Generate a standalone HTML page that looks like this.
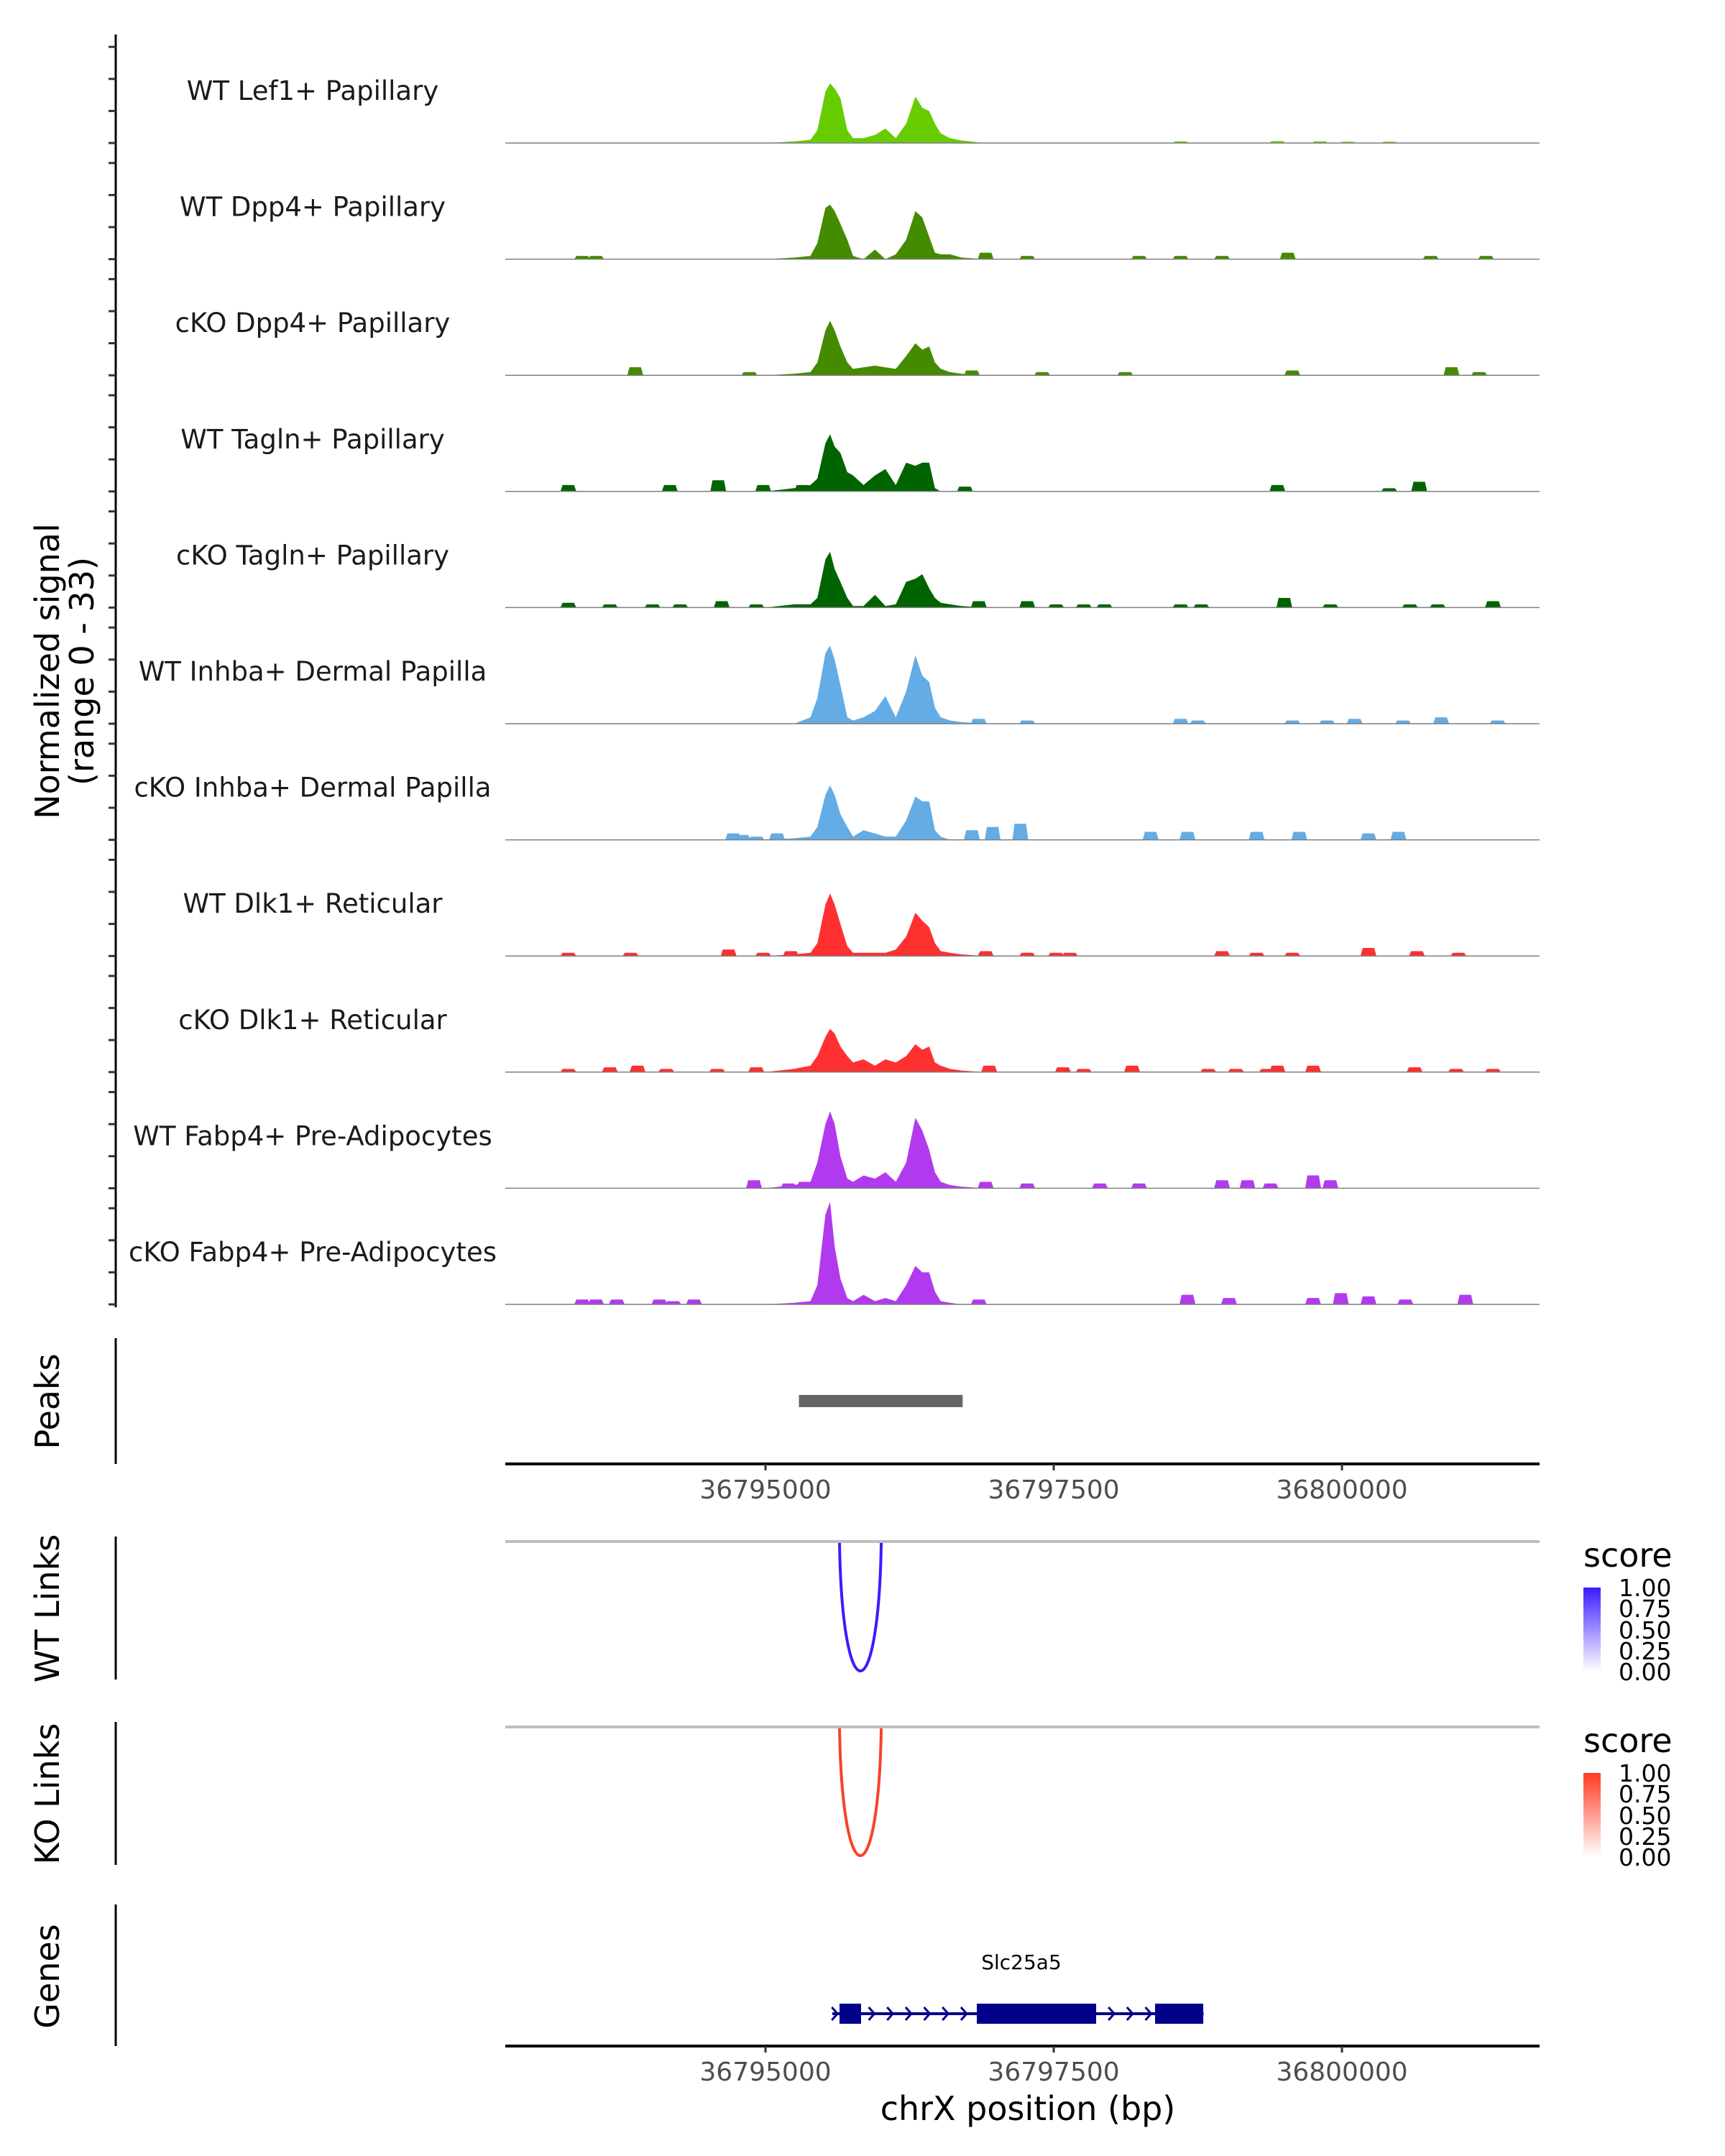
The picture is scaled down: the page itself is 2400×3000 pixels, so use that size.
<!DOCTYPE html>
<html><head><meta charset="utf-8"><style>
html,body{margin:0;padding:0;background:#fff;}
svg{display:block;font-family:"DejaVu Sans","Liberation Sans",sans-serif;}
</style></head><body>
<svg id="chart" width="2400" height="3000" viewBox="0 0 2400 3000" xmlns="http://www.w3.org/2000/svg">
<g id="tracks"></g>
<line x1="161" y1="48" x2="161" y2="1819" stroke="#000" stroke-width="3"/>
<g id="yticks"></g>
<text transform="translate(82,934) rotate(-90)" text-anchor="middle" font-size="46" fill="#000">Normalized signal</text>
<text transform="translate(130,934) rotate(-90)" text-anchor="middle" font-size="46" fill="#000">(range 0 - 33)</text>

<line x1="161" y1="1862" x2="161" y2="2037" stroke="#000" stroke-width="3"/>
<text transform="translate(82,1950) rotate(-90)" text-anchor="middle" font-size="46">Peaks</text>
<rect id="peakbar" x="1118" y="1941" width="228" height="17" fill="#666"/>
<line x1="703" y1="2037" x2="2142" y2="2037" stroke="#000" stroke-width="4"/>
<g id="xaxis1"></g>

<line x1="161" y1="2138" x2="161" y2="2337" stroke="#000" stroke-width="3"/>
<text transform="translate(82,2238) rotate(-90)" text-anchor="middle" font-size="46">WT Links</text>
<line x1="703" y1="2145" x2="2142" y2="2145" stroke="#bebebe" stroke-width="4"/>
<path id="wtarc" fill="none" stroke="#3a1cff" stroke-width="4"/>
<text x="2203" y="2180" font-size="46">score</text>
<defs>
<linearGradient id="gb" x1="0" y1="1" x2="0" y2="0"><stop offset="0" stop-color="#fff"/><stop offset="1" stop-color="#3a1cff"/></linearGradient>
<linearGradient id="gr" x1="0" y1="1" x2="0" y2="0"><stop offset="0" stop-color="#fff"/><stop offset="1" stop-color="#ff3a22"/></linearGradient>
</defs>
<rect x="2203" y="2209" width="24" height="116" fill="url(#gb)"/>
<g font-size="33" fill="#000">
<text x="2252" y="2221">1.00</text><text x="2252" y="2250">0.75</text><text x="2252" y="2280">0.50</text><text x="2252" y="2309">0.25</text><text x="2252" y="2338">0.00</text></g>

<line x1="161" y1="2396" x2="161" y2="2595" stroke="#000" stroke-width="3"/>
<text transform="translate(82,2496) rotate(-90)" text-anchor="middle" font-size="46">KO Links</text>
<line x1="703" y1="2403" x2="2142" y2="2403" stroke="#bebebe" stroke-width="4"/>
<path id="koarc" fill="none" stroke="#f5432a" stroke-width="4"/>
<text x="2203" y="2438" font-size="46">score</text>
<rect x="2203" y="2467" width="24" height="116" fill="url(#gr)"/>
<g font-size="33" fill="#000">
<text x="2252" y="2479">1.00</text><text x="2252" y="2508">0.75</text><text x="2252" y="2538">0.50</text><text x="2252" y="2567">0.25</text><text x="2252" y="2596">0.00</text></g>

<line x1="161" y1="2650" x2="161" y2="2847" stroke="#000" stroke-width="3"/>
<text transform="translate(82,2750) rotate(-90)" text-anchor="middle" font-size="46">Genes</text>
<text x="1421" y="2740" text-anchor="middle" font-size="28">Slc25a5</text>
<g id="gene"></g>
<line x1="703" y1="2847" x2="2142" y2="2847" stroke="#000" stroke-width="4"/>
<g id="xaxis2"></g>
<text x="1430" y="2950" text-anchor="middle" font-size="46">chrX position (bp)</text>
</svg>
<script>
const trackNames = ["WT Lef1+ Papillary","WT Dpp4+ Papillary","cKO Dpp4+ Papillary","WT Tagln+ Papillary","cKO Tagln+ Papillary","WT Inhba+ Dermal Papilla","cKO Inhba+ Dermal Papilla","WT Dlk1+ Reticular","cKO Dlk1+ Reticular","WT Fabp4+ Pre-Adipocytes","cKO Fabp4+ Pre-Adipocytes"];
const trackColors = ["#66cc00","#458b00","#458b00","#006400","#006400","#63ace5","#63ace5","#ff3030","#ff3030","#b23aee","#b23aee"];
const mainPositionsKb = [36795.00,36795.25,36795.39,36795.45,36795.52,36795.56,36795.60,36795.65,36795.71,36795.76,36795.85,36795.95,36796.04,36796.13,36796.22,36796.30,36796.36,36796.42,36796.47,36796.52,36796.60,36796.70,36796.90];
const sigLef1WT = [0,0.5,1,4,16,18.6,17,14,4,1.5,1.5,2.5,4.5,1.5,6,14.5,11,10,6,3,1.5,0.8,0];
const sigDpp4WT = [0,0.5,1,5,16,17,15,11,6,1,0,3,0,1.5,6,15,13,7,2,1.5,1.5,0.5,0];
const sigDpp4KO = [0,0.5,1,4,14,17,14,9,4,2,2.5,3,2.5,2,6,10,8,9,4,2,1,0.5,0];
const sigTaglnWT = [0,1,2,4,15,17.8,14,12,6,5,2,5,7,2,9,8,9,9,1,0,0,0,0];
const sigTaglnKO = [0,1,1,3,15,17.4,12,8,3,0.5,0.5,4,0.5,1,8,9,10.4,6,3,1.5,1,0.5,0];
const sigInhbaWT = [0,0,2,8,22,24.4,20,12,2,1,2,4,8.6,2,10,21.3,15,13,5,2,1,0.5,0];
const sigInhbaKO = [0,0.5,1,4,14,17,14,8,4,1,3,2,1,1,6,13.5,12,12,3,1,0,0,0];
const sigDlk1WT = [0,0.5,1,4,16,19.5,16,10,3,1,1,1,1,2,6,13.5,11,9,4,1.5,1,0.5,0];
const sigDlk1KO = [0,1,2,5,11,13.5,12,8,5,3,4,2,4,3,5,8.7,7,8,3,2,1,0.5,0];
const sigFabp4WT = [0,1,2,8,20,24,20,10,3,2,4,3,5,2,8,22,18,12,5,2,1,0.5,0];
const sigFabp4KO = [0,0.5,1,6,28,32,18,8,2,1,3,1,2,1,6,12,10,10,4,1,0.5,0,0];
const mainSignals = [sigLef1WT,sigDpp4WT,sigDpp4KO,sigTaglnWT,sigTaglnKO,sigInhbaWT,sigInhbaKO,sigDlk1WT,sigDlk1KO,sigFabp4WT,sigFabp4KO];
// small background blips: [center kb, height]
const blipsLef1WT = [[36798.60,0.5],[36799.44,0.6],[36799.81,0.5],[36800.05,0.4],[36800.41,0.4]];
const blipsDpp4WT = [[36793.41,1],[36793.53,1],[36796.91,2],[36797.27,1],[36798.24,1],[36798.60,1],[36798.96,1],[36799.53,2],[36800.77,1],[36801.25,1]];
const blipsDpp4KO = [[36793.87,2.5],[36794.86,1],[36796.79,1.5],[36797.40,1],[36798.12,1],[36799.57,1.5],[36800.95,2.5],[36801.19,1]];
const blipsTaglnWT = [[36793.29,2],[36794.17,2],[36794.59,3.5],[36794.98,2],[36795.32,2],[36796.73,1.5],[36799.44,2],[36800.41,1],[36800.67,3]];
const blipsTaglnKO = [[36793.29,1.5],[36793.65,1],[36794.02,1],[36794.26,1],[36794.62,2],[36794.92,1],[36796.85,2],[36797.27,2],[36797.52,1],[36797.76,1],[36797.94,1],[36798.60,1],[36798.78,1],[36799.50,3],[36799.90,1],[36800.59,1],[36800.83,1],[36801.31,2]];
const blipsInhbaWT = [[36796.85,1.5],[36797.27,1],[36798.60,1.5],[36798.75,1],[36799.57,1],[36799.87,1],[36800.11,1.5],[36800.53,1],[36800.86,2],[36801.35,1]];
const blipsInhbaKO = [[36794.72,2],[36794.80,1.5],[36794.92,1],[36795.10,2],[36796.79,3],[36796.97,4],[36797.21,5],[36798.34,2.5],[36798.66,2.5],[36799.26,2.5],[36799.63,2.5],[36800.23,2],[36800.49,2.5]];
const blipsDlk1WT = [[36793.29,1],[36793.83,1],[36794.68,2],[36794.98,1],[36795.22,1.5],[36796.91,1.5],[36797.27,1],[36797.52,1],[36797.64,1],[36798.96,1.5],[36799.26,1],[36799.57,1],[36800.23,2.5],[36800.65,1.5],[36801.01,1]];
const blipsDlk1KO = [[36793.29,1],[36793.65,1.5],[36793.89,2],[36794.14,1],[36794.58,1],[36794.92,1.5],[36796.94,2],[36797.58,1.5],[36797.76,1],[36798.18,2],[36798.84,1],[36799.08,1],[36799.35,1],[36799.44,2],[36799.75,2],[36800.63,1.5],[36800.99,1],[36801.31,1]];
const blipsFabp4WT = [[36794.90,2.5],[36795.20,1.5],[36795.34,2],[36796.91,2],[36797.27,1.5],[36797.90,1.5],[36798.24,1.5],[36798.96,2.5],[36799.18,2.5],[36799.38,1.5],[36799.75,4],[36799.90,2.5]];
const blipsFabp4KO = [[36793.41,1.5],[36793.53,1.5],[36793.71,1.5],[36794.08,1.5],[36794.20,1],[36794.38,1.5],[36796.85,1.5],[36798.66,3],[36799.02,2],[36799.75,2],[36799.99,3.5],[36800.23,2.5],[36800.55,1.5],[36801.07,3]];
const allBlips = [blipsLef1WT,blipsDpp4WT,blipsDpp4KO,blipsTaglnWT,blipsTaglnKO,blipsInhbaWT,blipsInhbaKO,blipsDlk1WT,blipsDlk1KO,blipsFabp4WT,blipsFabp4KO];
const xTickKb = [36795.0,36797.5,36800.0];
const xTickLabels = ["36795000","36797500","36800000"];
const yTickValues = [0,10,20,30];
const peakRegionKb = [36795.29,36796.71];
const linkStartKb = 36795.642, linkEndKb = 36796.004;
const geneStartKb = 36795.58, geneEndKb = 36798.80;
const exonsKb = [[36795.642,36795.829],[36796.833,36797.868],[36798.379,36798.797]];

const NS="http://www.w3.org/2000/svg";
const X0=703,X1=2142,D0=36792.743,D1=36801.714;
const x = kb => X0+(kb-D0)*(X1-X0)/(D1-D0);
const BASE0=199, STEP=161.6, PXU=4.46;
const base = i => BASE0+i*STEP;
const y = (i,v) => base(i)-v*PXU;
function mk(tag,attrs,parent){const e=document.createElementNS(NS,tag);for(const k in attrs)e.setAttribute(k,attrs[k]);parent.appendChild(e);return e;}

const tg=document.getElementById('tracks');
const yt=document.getElementById('yticks');
trackNames.forEach((name,i)=>{
  const g=mk('g',{},tg);
  
  
  const lab=mk('text',{x:435,y:base(i)-60,'text-anchor':'middle','font-size':37,fill:'#1a1a1a'},g);
  lab.textContent=name;
  
  
  const sig=mainSignals[i];
  let d='M'+x(mainPositionsKb[0])+','+base(i);
  mainPositionsKb.forEach((p,j)=>{d+=' L'+x(p).toFixed(1)+','+y(i,sig[j]).toFixed(1);});
  d+=' L'+x(mainPositionsKb[mainPositionsKb.length-1])+','+base(i)+'Z';
  const area=mk('path',{d:d,fill:trackColors[i]},g);
  
  
  allBlips[i].forEach(b=>{
    const xc=x(b[0]),w=x(b[0]+0.05)-x(b[0]);
    const bp=mk('path',{d:`M${xc-w-3},${base(i)} L${xc-w},${y(i,b[1])} L${xc+w},${y(i,b[1])} L${xc+w+3},${base(i)}Z`,fill:trackColors[i]},g);
    
    
  });
  const bl=mk('line',{x1:X0,x2:X1,y1:base(i),y2:base(i),stroke:'#7f7f7f','stroke-width':1.5},g);
  
  
  yTickValues.forEach(v=>{
    const t=mk('line',{x1:151,x2:161,y1:y(i,v),y2:y(i,v),stroke:'#333','stroke-width':3},yt);
    
    
  });
});
const pb=document.getElementById('peakbar');
pb.setAttribute('x',x(peakRegionKb[0]));pb.setAttribute('width',x(peakRegionKb[1])-x(peakRegionKb[0]));
function axisTicks(id,yAxis){
  const g=document.getElementById(id);
  xTickKb.forEach((k,j)=>{
    const t=mk('line',{x1:x(k),x2:x(k),y1:yAxis,y2:yAxis+9,stroke:'#333','stroke-width':3},g);
    
    
    const l=mk('text',{x:x(k),y:yAxis+48,'text-anchor':'middle','font-size':36,fill:'#4d4d4d'},g);
    l.textContent=xTickLabels[j];
    
    
  });
}
axisTicks('xaxis1',2037);axisTicks('xaxis2',2847);
function arc(id,top,bottom){
  const a=x(linkStartKb),b=x(linkEndKb);
  const yc=(bottom-0.25*top)/0.75;
  document.getElementById(id).setAttribute('d',`M${a},${top} C${a+4},${yc} ${b-4},${yc} ${b},${top}`);
}
arc('wtarc',2147,2325);arc('koarc',2405,2582);
const gg=document.getElementById('gene');
const gy=2802;
const gl=mk('line',{x1:x(geneStartKb),x2:x(geneEndKb),y1:gy,y2:gy,stroke:'#00008b','stroke-width':4},gg);


for(let k=geneStartKb+0.02;k<geneEndKb;k+=0.16){
  const ax=x(k);
  const ch=mk('path',{d:`M${ax-4},${gy-9} L${ax+4},${gy} L${ax-4},${gy+9}`,fill:'none',stroke:'#00008b','stroke-width':3},gg);
  
  
}
exonsKb.forEach(e=>{
  const r=mk('rect',{x:x(e[0]),y:gy-14,width:x(e[1])-x(e[0]),height:28,fill:'#00008b'},gg);
  
  
});
</script>
</body></html>
